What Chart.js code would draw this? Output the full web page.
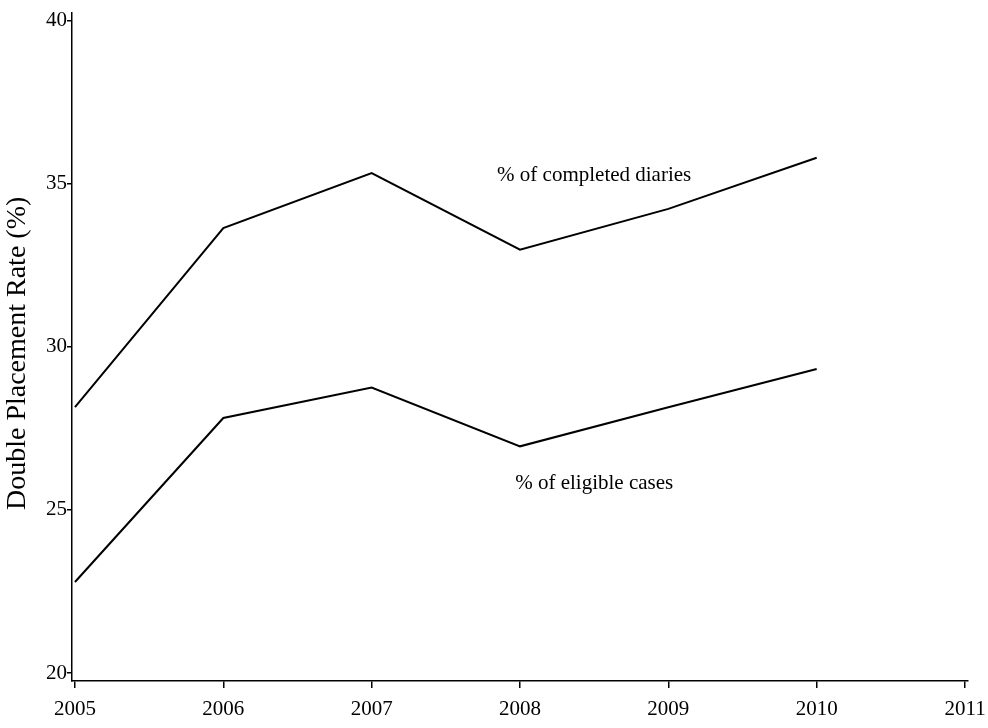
<!DOCTYPE html>
<html>
<head>
  <title>Double Placement Rate</title>
  <script src="https://cdn.jsdelivr.net/npm/chart.js"></script>
  <style>
    body { margin: 0; background: #fff; }
  </style>
</head>
<body>
  <canvas id="rateChart" width="988" height="728"></canvas>

  <script>
    // values
    const years = [2005, 2006, 2007, 2008, 2009, 2010];
    const completedDiaries = [28.15, 33.64, 35.33, 32.98, 34.23, 35.8];
    const eligibleCases = [22.79, 27.82, 28.75, 26.95, 28.15, 29.32];

    const xTicks = [2005, 2006, 2007, 2008, 2009, 2010, 2011];
    const yTicks = [20, 25, 30, 35, 40];

    const seriesNames = ['% of completed diaries', '% of eligible cases'];
    const yTitle = 'Double Placement Rate (%)';

    const serif = "'Liberation Serif', 'Times New Roman', serif";

    function points(values) {
      return years.map((yr, i) => ({ x: yr, y: values[i] }));
    }

    // labels sit beside the lines instead of a legend, plus the axis title
    const chartText = {
      id: 'chartText',
      afterDatasetsDraw(chart) {
        const { ctx, scales } = chart;
        const spots = [
          { text: seriesNames[0], x: 2008.5, y: 35.25 },
          { text: seriesNames[1], x: 2008.5, y: 25.82 }
        ];
        ctx.save();
        ctx.fillStyle = '#000';
        ctx.textAlign = 'center';
        ctx.textBaseline = 'middle';
        ctx.font = '21px ' + serif;
        spots.forEach(s => {
          ctx.fillText(s.text, scales.x.getPixelForValue(s.x), scales.y.getPixelForValue(s.y));
        });

        ctx.font = '28px ' + serif;
        ctx.translate(18, scales.y.getPixelForValue(29.8));
        ctx.rotate(-Math.PI / 2);
        ctx.fillText(yTitle, 0, 0);
        ctx.restore();
      }
    };

    const ctx = document.getElementById('rateChart').getContext('2d');
    new Chart(ctx, {
      type: 'line',
      data: {
        datasets: [
          {
            label: seriesNames[0],
            data: points(completedDiaries),
            borderColor: '#000',
            borderWidth: 2,
            pointRadius: 0,
            tension: 0
          },
          {
            label: seriesNames[1],
            data: points(eligibleCases),
            borderColor: '#000',
            borderWidth: 2,
            pointRadius: 0,
            tension: 0
          }
        ]
      },
      options: {
        responsive: false,
        animation: false,
        layout: { padding: { top: 13, right: 20, left: 0, bottom: 0 } },
        plugins: {
          legend: { display: false },
          tooltip: { enabled: false }
        },
        scales: {
          x: {
            type: 'linear',
            min: 2004.98,
            max: 2011.02,
            afterBuildTicks: s => { s.ticks = xTicks.map(v => ({ value: v })); },
            afterFit: s => { s.height = 47; s.paddingLeft = 0; s.paddingRight = 0; },
            border: { color: '#000', width: 1.5 },
            grid: { drawOnChartArea: false, color: '#000', tickLength: 7, lineWidth: 1.5 },
            ticks: {
              color: '#000',
              padding: 9,
              maxRotation: 0,
              font: { family: serif, size: 21 },
              callback: v => String(v)
            }
          },
          y: {
            min: 19.755,
            max: 40.236,
            afterBuildTicks: s => { s.ticks = yTicks.map(v => ({ value: v })); },
            afterFit: s => { s.width = 72; },
            border: { color: '#000', width: 1.5 },
            grid: { drawOnChartArea: false, color: '#000', tickLength: 5, lineWidth: 1.5 },
            ticks: {
              color: '#000',
              padding: 0,
              font: { family: serif, size: 21 },
              callback: v => String(v)
            }
          }
        }
      },
      plugins: [chartText]
    });
  </script>
</body>
</html>
